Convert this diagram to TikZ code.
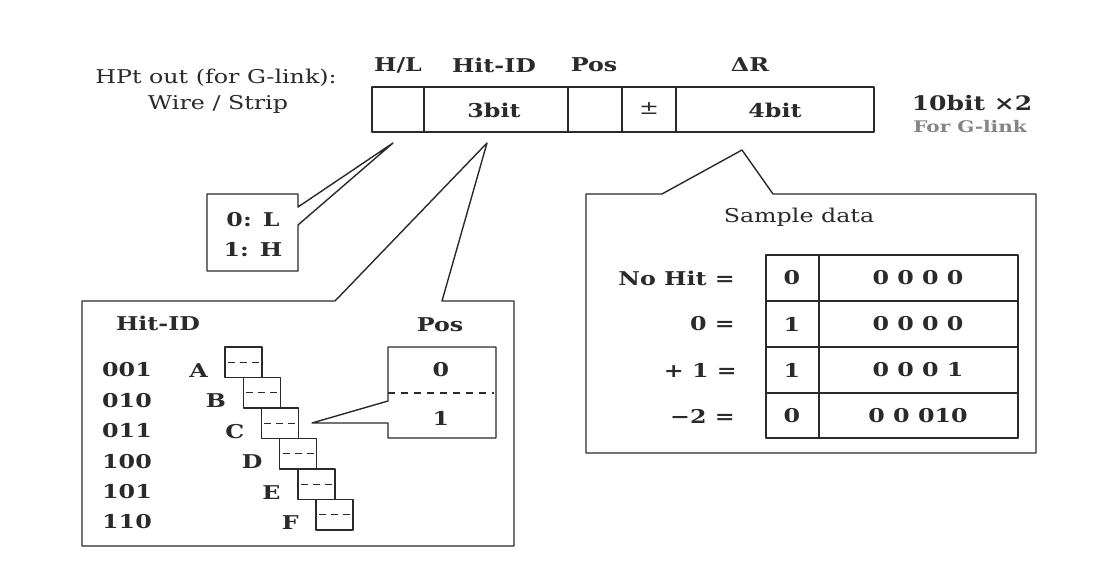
\documentclass[tikz,border=0pt]{standalone}
\usepackage{fontspec}
\setmainfont{DejaVu Serif}[FakeStretch=1.25]
\definecolor{ln}{HTML}{2A2A2A}
\definecolor{gr}{HTML}{858585}
\begin{document}
\begin{tikzpicture}[x=1pt,y=-1pt,
  ln/.style={draw=ln, line width=1.4pt, line join=round},
  lbl/.style={font=\bfseries\fontsize{19}{22}\selectfont, inner sep=0pt, text=ln},
  txt/.style={font=\fontsize{19}{22}\selectfont, inner sep=0pt, text=ln},
  cell/.style={ln, minimum width=37pt, minimum height=30.5pt, inner sep=0pt, outer sep=0pt},
  dsh/.style={draw=ln, line width=1.2pt, dash pattern=on 7pt off 5pt, dash phase=-3pt}]
\useasboundingbox[fill=white] (0,0) rectangle (1104,578);

% ---------- top register ----------
\node[txt] (hpt1) at (216,78) {HPt out (for G-link):};
\node[txt] (hpt2) at (218,104) {Wire / Strip};

\draw[ln] (372,87) rectangle (874,132);
\foreach \xx in {424,568,622,676} \draw[ln] (\xx,87) -- (\xx,132);

\node[lbl] (hl)   at (398,65) {H/L};
\node[lbl] (hid)  at (494,65) {Hit-ID};
\node[lbl] (pos)  at (594,65) {Pos};
\node[lbl] (dr)   at (750,65) {ΔR};
\node[lbl] (b3)   at (494,110) {3bit};
\node[txt] (pm)   at (649,109) {±};
\node[lbl] (b4)   at (775,110) {4bit};
\node[lbl, font=\bfseries\fontsize{20}{23}\selectfont] (b10) at (972,103) {10bit ×2};
\node[lbl, font=\bfseries\fontsize{16}{19}\selectfont, text=gr] (fg) at (970,127) {For G-link};

% ---------- H/L callout ----------
\coordinate (hltip) at (393,143);
\draw[ln] (298,207) -- (298,194) -- (207,194) -- (207,271) -- (298,271) -- (298,225) -- (hltip) -- cycle;
\node[lbl] (l0) at (253,220) {0: L};
\node[lbl] (l1) at (253,250) {1: H};

% ---------- Sample data callout ----------
\coordinate (drtip) at (742,150);
\draw[ln] (586,194) -- (662,194) -- (drtip) -- (773,194) -- (1036,194) -- (1036,453) -- (586,453) -- cycle;
\node[txt] (sd) at (799,217) {Sample data};

\draw[ln] (766,255) rectangle (1018,438);
\draw[ln] (819,255) -- (819,438);
\foreach \yy in {301,347,393} \draw[ln] (766,\yy) -- (1018,\yy);

\node[lbl, anchor=east] (r1) at (735,278) {No Hit =};
\node[lbl, anchor=east] (r2) at (735,324) {0 =};
\node[lbl, anchor=east] (r3) at (737,370) {+ 1 =};
\node[lbl, anchor=east] (r4) at (735,416) {−2 =};
\node[lbl] (v1a) at (792,278) {0};
\node[lbl] (v2a) at (792,324) {1};
\node[lbl] (v3a) at (792,370) {1};
\node[lbl] (v4a) at (792,416) {0};
\node[lbl] (v1b) at (918,278) {0 0 0 0};
\node[lbl] (v2b) at (918,324) {0 0 0 0};
\node[lbl] (v3b) at (918,370) {0 0 0 1};
\node[lbl] (v4b) at (918,416) {0 0 010};

% ---------- Hit-ID callout ----------
\coordinate (hidtip) at (487,143);
\draw[ln] (82,301) -- (335,301) -- (hidtip) -- (442,301) -- (514,301) -- (514,546) -- (82,546) -- cycle;
\node[lbl] (hidt) at (158,323) {Hit-ID};
\node[lbl] (post) at (440,325) {Pos};

\foreach \l/\n [count=\i from 0] in {A/001,B/010,C/011,D/100,E/101,F/110}{
  \node[cell] (c\l) at ({243.5+18.2*\i},{362.25+30.5*\i}) {};
  \draw[dsh] (c\l.west) -- (c\l.east);
  \node[lbl, anchor=east] (t\l) at ([xshift=-17pt,yshift=-8pt]c\l.west) {\l};
  \node[lbl, anchor=west] (n\l) at (102,{370+30.4*\i}) {\n};
}

% ---------- Pos callout ----------
\coordinate (postip) at (312,423);
\draw[ln] (388,401) -- (388,347) -- (496,347) -- (496,438) -- (388,438) -- (388,423) -- (postip) -- cycle;
\draw[ln, dash pattern=on 7pt off 6pt] (388,393) -- (494,393);
\node[lbl] (p0) at (441,370) {0};
\node[lbl] (p1) at (441,418) {1};
\end{tikzpicture}
\end{document}
